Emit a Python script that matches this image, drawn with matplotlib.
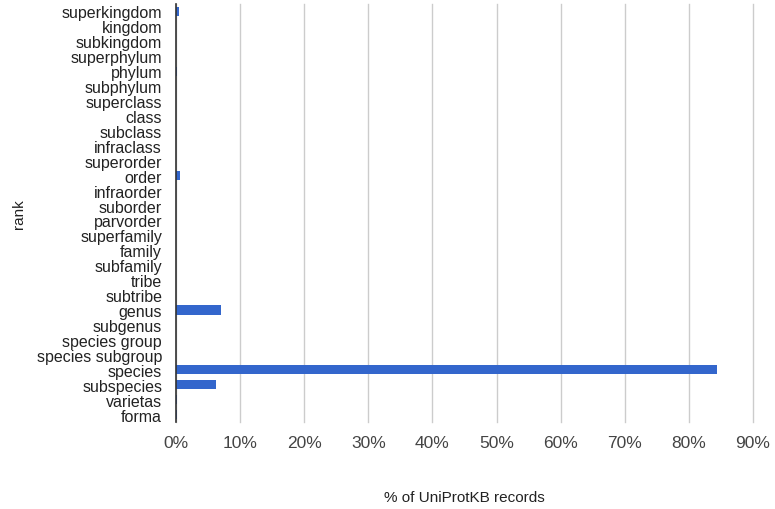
import matplotlib
matplotlib.use("Agg")
import matplotlib.pyplot as plt
from matplotlib.ticker import FuncFormatter

ranks = ["superkingdom", "kingdom", "subkingdom", "superphylum", "phylum",
         "subphylum", "superclass", "class", "subclass", "infraclass",
         "superorder", "order", "infraorder", "suborder", "parvorder",
         "superfamily", "family", "subfamily", "tribe", "subtribe", "genus",
         "subgenus", "species group", "species subgroup", "species",
         "subspecies", "varietas", "forma"]
percent = [0.45, 0.0, 0.0, 0.0, 0.1,
           0.0, 0.0, 0.0, 0.0, 0.0,
           0.0, 0.6, 0.0, 0.0, 0.0,
           0.0, 0.0, 0.0, 0.0, 0.0, 7.05,
           0.05, 0.0, 0.0, 84.4,
           6.2, 0.15, 0.15]
xticks = [0, 10, 20, 30, 40, 50, 60, 70, 80, 90]

plt.rcParams['font.family'] = ['Liberation Sans', 'DejaVu Sans']

fig = plt.figure(figsize=(7.75, 5.10), dpi=100)
ax = fig.add_axes([176/775, 1-423/510, (753-176)/775, (423-5)/510])

n = len(ranks)
ypos = list(range(n))
ax.barh(ypos, percent, height=0.62, color="#3366CC", zorder=3)
ax.set_ylim(n - 0.5, -0.5)
ax.set_xlim(0, 90)
ax.set_yticks(ypos)
ax.set_yticklabels(ranks, fontsize=11.5, color="#222222")
ax.set_xticks(xticks)
ax.xaxis.set_major_formatter(FuncFormatter(lambda v, p: f"{int(v)}%"))
ax.tick_params(axis='x', labelsize=12.5, colors="#444444", length=0, pad=9)
ax.tick_params(axis='y', length=0, pad=10)
ax.grid(axis='x', color="#CCCCCC", linewidth=1, zorder=0)
for gl in ax.get_xgridlines():
    gl.set_clip_on(False)
for s in ['top', 'right', 'bottom']:
    ax.spines[s].set_visible(False)
ax.spines['left'].set_color("#333333")
ax.spines['left'].set_linewidth(1.2)
ax.spines['left'].set_zorder(4)
ax.set_xlabel("% of UniProtKB records", fontsize=11, color="#222222", labelpad=29)
ax.set_ylabel("rank", fontsize=11, color="#222222", labelpad=8)

fig.savefig("out.png", dpi=100)
